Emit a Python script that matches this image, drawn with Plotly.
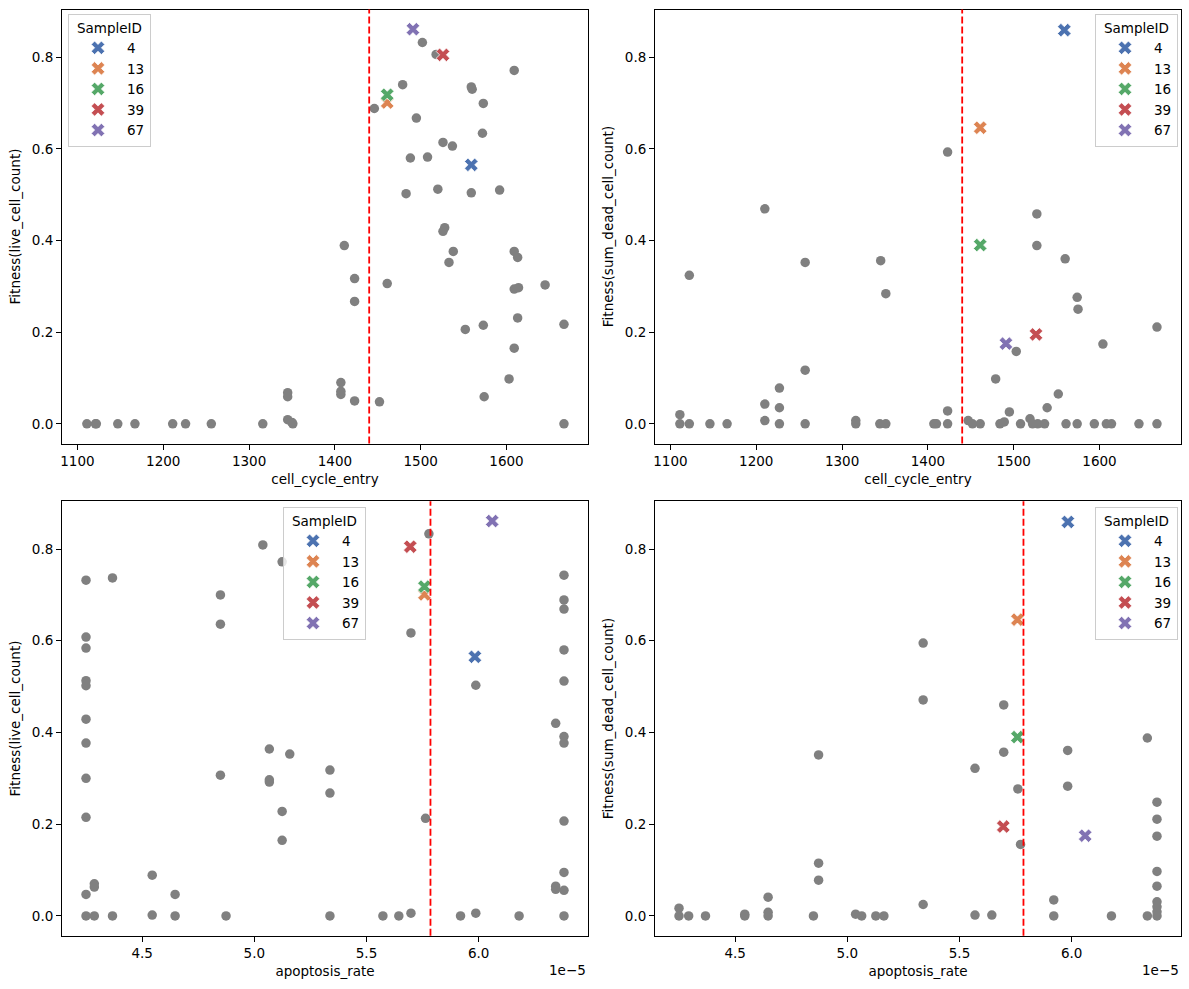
import plotly.graph_objects as go

# ---------------- data ----------------
sample_ids = ["4", "13", "16", "39", "67"]
sample_colors = ["#4C72B0", "#DD8452", "#55A868", "#C44E52", "#8172B3"]
sample_cell_cycle_entry = [1559, 1461, 1461, 1526, 1491]
sample_apoptosis_rate = [5.983e-5, 5.758e-5, 5.758e-5, 5.695e-5, 6.060e-5]
sample_fit_live = [0.565, 0.701, 0.718, 0.805, 0.861]
sample_fit_dead = [0.859, 0.646, 0.390, 0.195, 0.175]

cce_threshold = 1440
apoptosis_threshold = 5.785e-5

# top-left: cell_cycle_entry vs Fitness(live_cell_count)
tl_cce = [1502, 1518, 1609, 1479, 1559, 1560, 1573, 1446, 1495, 1572,
          1526, 1537, 1488, 1508, 1483, 1520, 1559, 1592, 1528, 1526,
          1411, 1538, 1609, 1613, 1533, 1423, 1461, 1609, 1614, 1645,
          1423, 1613, 1552, 1573, 1667, 1609, 1603, 1407, 1407, 1407,
          1345, 1345, 1574, 1423, 1452, 1667, 1111, 1121, 1122, 1147,
          1167, 1211, 1226, 1256, 1316, 1345, 1350, 1351]
tl_live = [0.832, 0.806, 0.771, 0.740, 0.735, 0.730, 0.699, 0.688, 0.667, 0.634,
           0.614, 0.606, 0.580, 0.582, 0.502, 0.512, 0.504, 0.510, 0.428, 0.420,
           0.389, 0.376, 0.376, 0.363, 0.352, 0.317, 0.306, 0.294, 0.297, 0.303,
           0.267, 0.231, 0.206, 0.215, 0.217, 0.165, 0.098, 0.090, 0.071, 0.064,
           0.068, 0.059, 0.059, 0.050, 0.048, 0.000, 0.000, 0.000, 0.000, 0.000,
           0.000, 0.000, 0.000, 0.000, 0.000, 0.009, 0.003, 0.000]

# top-right: cell_cycle_entry vs Fitness(sum_dead_cell_count)
tr_cce = [1423, 1210, 1527, 1527, 1122, 1257, 1345, 1351, 1560, 1574,
          1575, 1667, 1604, 1503, 1479, 1257, 1227, 1210, 1227, 1552,
          1539, 1423, 1495, 1111, 1210, 1519, 1316, 1447, 1489,
          1111, 1122, 1146, 1166, 1227, 1257, 1316, 1344, 1351, 1407,
          1410, 1423, 1452, 1461, 1484, 1508, 1522, 1528, 1536, 1561,
          1574, 1594, 1608, 1614, 1646, 1667]
tr_dead = [0.593, 0.469, 0.458, 0.389, 0.324, 0.352, 0.356, 0.284, 0.360, 0.276,
           0.250, 0.211, 0.174, 0.158, 0.098, 0.117, 0.078, 0.043, 0.035, 0.065,
           0.035, 0.028, 0.026, 0.020, 0.007, 0.011, 0.007, 0.007, 0.004,
           0.000, 0.000, 0.000, 0.000, 0.000, 0.000, 0.000, 0.000, 0.000, 0.000,
           0.000, 0.000, 0.000, 0.000, 0.000, 0.000, 0.000, 0.000, 0.000, 0.000,
           0.000, 0.000, 0.000, 0.000, 0.000, 0.000]

# bottom-left: apoptosis_rate (in units of 1e-5) vs Fitness(live_cell_count)
bl_apop_e5 = [4.25, 4.25, 4.25, 4.25, 4.25, 4.25, 4.25, 4.25, 4.25, 4.25, 4.25,
              4.368, 4.287, 4.287, 4.287, 4.368, 4.545, 4.545, 4.647, 4.647,
              4.849, 4.849, 4.849, 4.874, 5.038, 5.124, 5.067, 5.158, 5.067, 5.067,
              5.124, 5.124, 5.337, 5.337, 5.337, 5.573, 5.644, 5.698, 5.698, 5.778,
              5.763, 5.919, 5.987, 5.987, 6.180,
              6.38, 6.38, 6.38, 6.38, 6.38, 6.38, 6.38, 6.38, 6.38, 6.38, 6.38,
              6.343, 6.343, 6.343]
bl_live = [0.732, 0.608, 0.584, 0.513, 0.502, 0.429, 0.377, 0.300, 0.215, 0.047, 0.000,
           0.737, 0.070, 0.063, 0.000, 0.000, 0.089, 0.002, 0.047, 0.000,
           0.700, 0.636, 0.307, 0.000, 0.809, 0.772, 0.364, 0.353, 0.297, 0.292,
           0.228, 0.165, 0.318, 0.268, 0.000, 0.000, 0.000, 0.006, 0.617, 0.833,
           0.213, 0.000, 0.503, 0.006, 0.000,
           0.743, 0.689, 0.669, 0.580, 0.512, 0.391, 0.377, 0.207, 0.095, 0.056, 0.000,
           0.420, 0.065, 0.058]

# bottom-right: apoptosis_rate (in units of 1e-5) vs Fitness(sum_dead_cell_count)
br_apop_e5 = [5.338, 5.338, 5.697, 5.697, 5.569, 5.760, 5.772, 5.982, 5.982, 6.337,
              6.38, 6.38, 6.38, 6.38, 6.38, 6.38, 6.38, 6.38, 6.38, 6.337,
              4.872, 4.872, 4.872, 4.849, 4.647, 4.647, 4.647, 4.543, 4.543, 4.368,
              4.293, 4.25, 4.25, 5.037, 5.064, 5.127, 5.163, 5.338, 5.569, 5.644,
              5.920, 5.920, 6.177]
br_dead = [0.595, 0.471, 0.460, 0.357, 0.322, 0.277, 0.156, 0.361, 0.283, 0.388,
           0.248, 0.211, 0.174, 0.097, 0.065, 0.031, 0.020, 0.009, 0.000, 0.000,
           0.351, 0.115, 0.078, 0.000, 0.041, 0.008, 0.000, 0.004, 0.000, 0.000,
           0.000, 0.017, 0.000, 0.004, 0.000, 0.000, 0.000, 0.025, 0.002, 0.002,
           0.035, 0.000, 0.000]

apop_ticks = [4.5e-5, 5.0e-5, 5.5e-5, 6.0e-5]
apop_ticktext = ["4.5", "5.0", "5.5", "6.0"]
fit_ticks = [0.0, 0.2, 0.4, 0.6, 0.8]
cce_ticks = [1100, 1200, 1300, 1400, 1500, 1600]

# ---------------- figure ----------------
W, H = 1189, 989
FONT = "DejaVu Sans"
FS = 13.5

def px_x(v):
    return v / W

def px_y(v):
    return 1 - v / H

fig = go.Figure()

panels = [
    ("x", "y", "legend", tl_cce, tl_live, sample_cell_cycle_entry, sample_fit_live, cce_threshold),
    ("x2", "y2", "legend2", tr_cce, tr_dead, sample_cell_cycle_entry, sample_fit_dead, cce_threshold),
    ("x3", "y3", "legend3", [v * 1e-5 for v in bl_apop_e5], bl_live, sample_apoptosis_rate, sample_fit_live, apoptosis_threshold),
    ("x4", "y4", "legend4", [v * 1e-5 for v in br_apop_e5], br_dead, sample_apoptosis_rate, sample_fit_dead, apoptosis_threshold),
]

for xa, ya, lg, gx, gy, sx, sy, thr in panels:
    fig.add_trace(go.Scatter(
        x=gx, y=gy, mode="markers", xaxis=xa, yaxis=ya, showlegend=False,
        marker=dict(color="#808080", size=9.5, line=dict(width=0)),
        hoverinfo="x+y",
    ))
    for i, sid in enumerate(sample_ids):
        fig.add_trace(go.Scatter(
            x=[sx[i]], y=[sy[i]], mode="markers", xaxis=xa, yaxis=ya,
            name=sid, legend=lg, showlegend=True,
            marker=dict(symbol="x", color=sample_colors[i], size=12,
                        line=dict(color="white", width=0.75)),
        ))
    fig.add_shape(type="line", xref=xa, yref=f"{ya} domain",
                  x0=thr, x1=thr, y0=0, y1=1,
                  line=dict(color="red", width=1.8, dash="7px,3px"))

xdom_left = [px_x(62), px_x(588)]
xdom_right = [px_x(655), px_x(1181)]
ydom_top = [px_y(443.5), px_y(9.5)]
ydom_bot = [px_y(935.7), px_y(501.3)]

axis_common = dict(
    showline=True, linecolor="black", linewidth=1, mirror=True,
    ticks="outside", ticklen=5, tickwidth=1, tickcolor="black",
    showgrid=False, zeroline=False, automargin=False,
    tickfont=dict(family=FONT, size=FS, color="black"),
)

cce_range = [1082, 1695]
apop_range = [4.143e-5, 6.487e-5]
fit_range = [-0.043, 0.904]

def xaxis(dom, anchor, title, rng, ticks, ticktext=None):
    d = dict(axis_common, domain=dom, anchor=anchor, range=rng, tickvals=ticks,
             title=dict(text=title, font=dict(family=FONT, size=FS, color="black"), standoff=6))
    if ticktext is not None:
        d["ticktext"] = ticktext
    return d

def yaxis(dom, anchor, title):
    return dict(axis_common, domain=dom, anchor=anchor, range=fit_range, tickvals=fit_ticks,
                tickformat=".1f",
                title=dict(text=title, font=dict(family=FONT, size=FS, color="black"), standoff=8))

legend_common = dict(
    title=dict(text="SampleID", side="top center", font=dict(family=FONT, size=FS, color="black")),
    font=dict(family=FONT, size=FS, color="black"),
    bgcolor="rgba(255,255,255,0.8)", bordercolor="#cccccc", borderwidth=1,
    tracegroupgap=0, itemclick=False, itemdoubleclick=False, itemwidth=48,
)

fig.update_layout(
    width=W, height=H,
    margin=dict(l=0, r=0, t=0, b=0),
    paper_bgcolor="white", plot_bgcolor="white",
    font=dict(family=FONT, size=FS, color="black"),
    xaxis=xaxis(xdom_left, "y", "cell_cycle_entry", cce_range, cce_ticks),
    yaxis=yaxis(ydom_top, "x", "Fitness(live_cell_count)"),
    xaxis2=xaxis(xdom_right, "y2", "cell_cycle_entry", cce_range, cce_ticks),
    yaxis2=yaxis(ydom_top, "x2", "Fitness(sum_dead_cell_count)"),
    xaxis3=xaxis(xdom_left, "y3", "apoptosis_rate", apop_range, apop_ticks, apop_ticktext),
    yaxis3=yaxis(ydom_bot, "x3", "Fitness(live_cell_count)"),
    xaxis4=xaxis(xdom_right, "y4", "apoptosis_rate", apop_range, apop_ticks, apop_ticktext),
    yaxis4=yaxis(ydom_bot, "x4", "Fitness(sum_dead_cell_count)"),
    legend=dict(legend_common, x=px_x(68), y=px_y(14), xanchor="left", yanchor="top"),
    legend2=dict(legend_common, x=px_x(1178), y=px_y(14), xanchor="right", yanchor="top"),
    legend3=dict(legend_common, x=px_x(283), y=px_y(507), xanchor="left", yanchor="top"),
    legend4=dict(legend_common, x=px_x(1178), y=px_y(507), xanchor="right", yanchor="top"),
    showlegend=True,
)

# offset text for the apoptosis axes
for xr in (xdom_left, xdom_right):
    fig.add_annotation(text="1e\u22125", xref="paper", yref="paper",
                       x=xr[1], y=px_y(960), xanchor="right", yanchor="top",
                       showarrow=False, font=dict(family=FONT, size=FS, color="black"))

fig.write_html("out.html")
